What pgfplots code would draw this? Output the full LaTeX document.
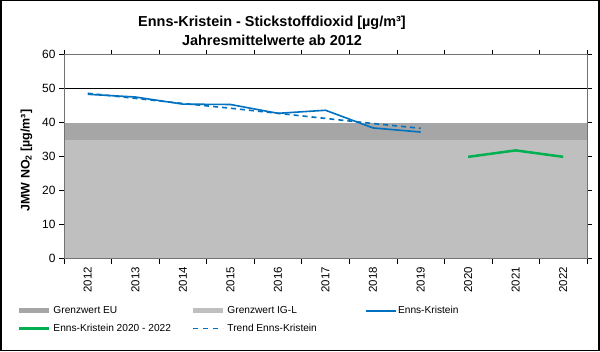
\documentclass[border=0pt]{standalone}
\usepackage{pgfplots}
\pgfplotsset{compat=1.18}
\usepackage{fontspec}
\setmainfont{Liberation Sans}
\definecolor{euG}{HTML}{A6A6A6}
\definecolor{igG}{HTML}{BFBFBF}
\definecolor{lineB}{HTML}{0070C0}
\definecolor{lineG}{HTML}{00B050}
\begin{document}
\begin{tikzpicture}[x=1bp,y=1bp]
\path[use as bounding box] (0,0) rectangle (600,351);
\draw[black, line width=1.5bp] (0.75,0.75) rectangle (599,350.5);
\begin{axis}[
  at={(64bp,92.5bp)}, anchor=south west,
  scale only axis, width=523bp, height=204bp,
  xmin=-0.5, xmax=10.5, ymin=0, ymax=60,
  axis line style={draw=gray!90!black, line width=0.8bp},
  xtick={0,...,10},
  xticklabels={2012,2013,2014,2015,2016,2017,2018,2019,2020,2021,2022},
  x tick label style={rotate=90, anchor=east, font=\fontsize{11.5}{12}\selectfont},
  major x tick style={draw=none},
  minor xtick={-0.5,0.5,...,10.5},
  minor tick length=5bp,
  minor x tick style={black, line width=0.6bp},
  ytick={0,10,...,60},
  y tick label style={font=\fontsize{12}{12}\selectfont},
  major tick length=5bp,
  tick align=outside,
  major y tick style={black, line width=0.6bp},
  yticklabel style={/pgf/number format/assume math mode=true},
  ylabel={\bfseries JMW NO\textsubscript{2} [µg/m³]},
  ylabel style={font=\fontsize{12.5}{13}\selectfont, at={(axis description cs:-0.072,0.48)}, anchor=center},
  clip=false,
  legend columns=3,
  legend cell align=left,
  legend style={draw=none, fill=none, at={(axis description cs:-0.096,-0.214)}, anchor=north west,
    font=\fontsize{10.2}{11}\selectfont, row sep=5bp, nodes={inner xsep=1.5bp}},
]
\addplot[fill=euG, draw=none, forget plot] coordinates {(-0.5,40) (10.5,40)} \closedcycle;
\addplot[fill=igG, draw=none, forget plot] coordinates {(-0.5,35) (10.5,35)} \closedcycle;
\addplot[black, line width=0.7bp, forget plot] coordinates {(-0.5,50) (10.5,50)};
\addlegendimage{legend image code/.code={\draw[euG, line width=5bp] (0bp,0bp) -- (30bp,0bp);}}
\addlegendentry{\makebox[136bp][l]{Grenzwert EU}}
\addlegendimage{legend image code/.code={\draw[igG, line width=5bp] (0bp,0bp) -- (30bp,0bp);}}
\addlegendentry{\makebox[136bp][l]{Grenzwert IG-L}}
\addplot[lineB, line width=1.6bp, legend image code/.code={\draw[lineB, line width=1.6bp] (0bp,0bp) -- (30bp,0bp);}] coordinates {
(0,48.3) (1,47.5) (2,45.4) (3,45.3) (4,42.7) (5,43.6) (6,38.4) (7,37.2)};
\addlegendentry{Enns-Kristein}
\addplot[lineG, line width=2.5bp, legend image code/.code={\draw[lineG, line width=2.5bp] (0bp,0bp) -- (30bp,0bp);}] coordinates {
(8,29.9) (9,31.8) (10,29.9)};
\addlegendentry{Enns-Kristein 2020 - 2022}
\addplot[lineB, line width=1.6bp, dash pattern=on 5bp off 4bp, legend image code/.code={\draw[lineB, line width=1.6bp, dash pattern=on 5bp off 5bp] (0bp,0bp) -- (30bp,0bp);}] coordinates {
(0,48.6) (1,47.1) (2,45.6) (3,44.2) (4,42.7) (5,41.2) (6,39.7) (7,38.3)};
\addlegendentry{Trend Enns-Kristein}
\draw[gray!90!black, line width=0.8bp] (rel axis cs:0,0) rectangle (rel axis cs:1,1);
\end{axis}
\node[font=\bfseries\fontsize{14.5}{18.5}\selectfont, align=center] at (272bp,320bp) {Enns-Kristein - Stickstoffdioxid [µg/m³]\\Jahresmittelwerte ab 2012};
\end{tikzpicture}
\end{document}
